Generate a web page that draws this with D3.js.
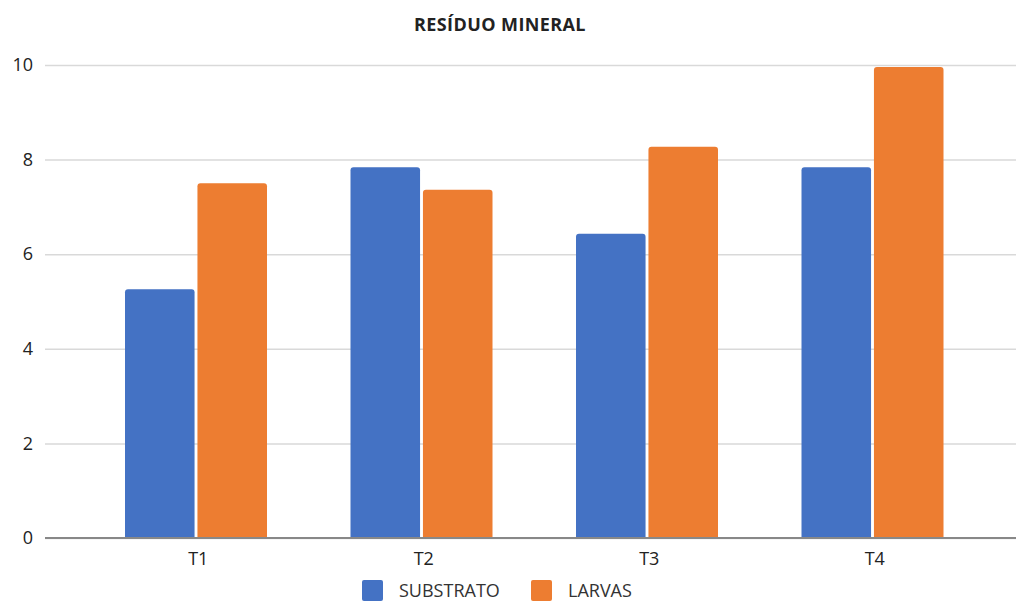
<!DOCTYPE html>
<html>
<head>
<meta charset="utf-8">
<script src="https://cdn.jsdelivr.net/npm/d3@7"></script>
<style>
  body { margin: 0; background: #fff; }
  text { font-family: "Open Sans", "Noto Sans", sans-serif; }
</style>
</head>
<body>
<div id="chart"></div>
<script>
const categories = ["T1", "T2", "T3", "T4"];
const seriesNames = ["SUBSTRATO", "LARVAS"];
const substrato = [5.26, 7.84, 6.43, 7.84];
const larvas = [7.5, 7.36, 8.27, 9.96];
const yTicks = [0, 2, 4, 6, 8, 10];
const colors = ["#4472C4", "#ED7D31"];

const width = 1016, height = 603;

const svg = d3.select("#chart")
    .append("svg")
    .attr("width", width)
    .attr("height", height);

// rows for each category
const rows = categories.map((c, i) => ({ category: c, values: [substrato[i], larvas[i]] }));

// scales
const x = d3.scaleBand()
    .domain(categories)
    .range([83.5, 985.5])
    .padding(0);

const xInner = d3.scaleBand()
    .domain(seriesNames)
    .range([41.5, 183.5])
    .paddingInner(0.04);

const y = d3.scaleLinear()
    .domain([0, 10])
    .range([538, 65]);

// title
svg.append("text")
    .attr("x", 500)
    .attr("y", 31)
    .attr("text-anchor", "middle")
    .attr("font-size", 18)
    .attr("font-weight", "bold")
    .attr("letter-spacing", 0.4)
    .attr("fill", "#222")
    .text("RESÍDUO MINERAL");

// gridlines
svg.append("g")
    .attr("transform", "translate(45,0)")
    .call(d3.axisLeft(y).tickValues(yTicks).tickSize(-971).tickFormat(""))
    .call(g => g.select(".domain").remove())
    .call(g => g.selectAll("line").attr("stroke", "#d9d9d9").attr("stroke-width", 1.5));

// y tick labels
svg.append("g")
    .attr("transform", "translate(45,0)")
    .call(d3.axisLeft(y).tickValues(yTicks).tickSize(0).tickPadding(12))
    .call(g => g.select(".domain").remove())
    .call(g => g.selectAll("text")
        .attr("font-size", 18)
        .attr("fill", "#222")
        .style("font-family", "'Open Sans', sans-serif"));

// rounded-top bar path
function barPath(x0, y0, w, h, r) {
    return "M" + x0 + "," + (y0 + h) +
        "V" + (y0 + r) +
        "Q" + x0 + "," + y0 + " " + (x0 + r) + "," + y0 +
        "H" + (x0 + w - r) +
        "Q" + (x0 + w) + "," + y0 + " " + (x0 + w) + "," + (y0 + r) +
        "V" + (y0 + h) + "Z";
}

// bars
const groups = svg.selectAll(".group")
    .data(rows)
    .enter().append("g")
    .attr("class", "group")
    .attr("transform", d => "translate(" + x(d.category) + ",0)");

groups.selectAll("path")
    .data(d => d.values.map((v, i) => ({ key: seriesNames[i], value: v, i })))
    .enter().append("path")
    .attr("d", d => barPath(xInner(d.key), y(d.value), xInner.bandwidth(), y(0) - y(d.value), 3))
    .attr("fill", d => colors[d.i]);

// x axis
svg.append("g")
    .attr("transform", "translate(2,538)")
    .call(d3.axisBottom(x).tickSize(0).tickPadding(14))
    .call(g => g.select(".domain").remove())
    .call(g => g.selectAll("text")
        .attr("font-size", 18)
        .attr("fill", "#222")
        .style("font-family", "'Open Sans', sans-serif"));

svg.append("line")
    .attr("x1", 45).attr("x2", 1016)
    .attr("y1", 538).attr("y2", 538)
    .attr("stroke", "#888")
    .attr("stroke-width", 2);

// legend
const legendX = [362, 531];
const legend = svg.selectAll(".legend")
    .data(seriesNames)
    .enter().append("g")
    .attr("class", "legend")
    .attr("transform", (d, i) => "translate(" + legendX[i] + ",580)");

legend.append("rect")
    .attr("width", 21)
    .attr("height", 21)
    .attr("rx", 2)
    .attr("fill", (d, i) => colors[i]);

legend.append("text")
    .attr("x", 37)
    .attr("y", 11)
    .attr("dy", "0.35em")
    .attr("font-size", 18)
    .attr("fill", "#333")
    .text(d => d);
</script>
</body>
</html>
